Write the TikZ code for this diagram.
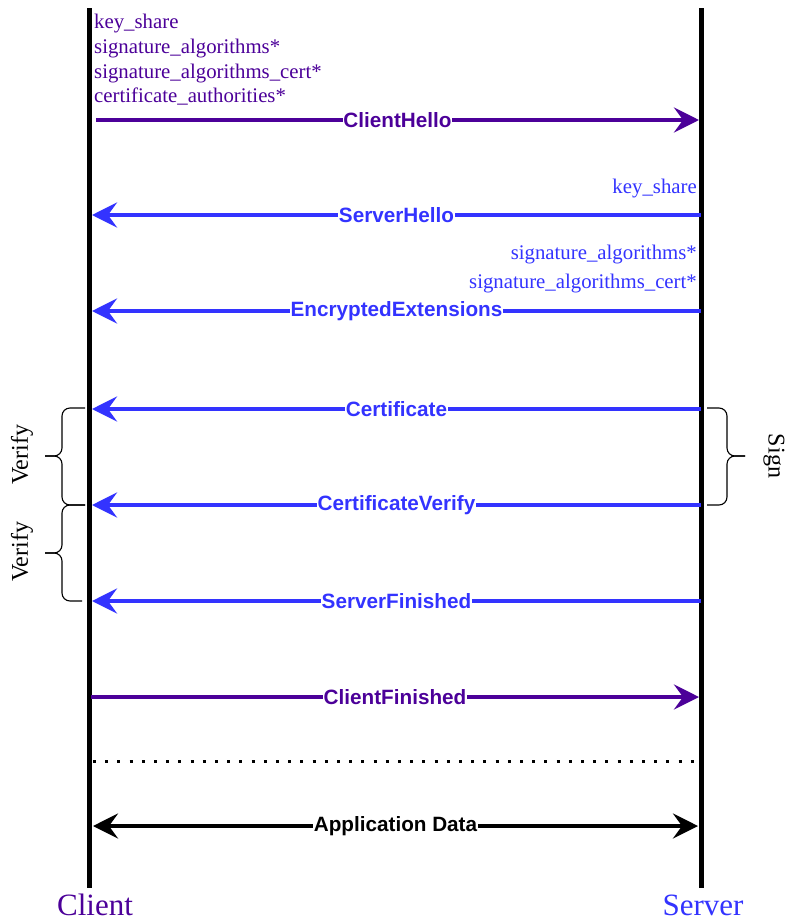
\documentclass[tikz,border=0pt]{standalone}
\usepackage{fontspec}
\setmainfont{Liberation Serif}
\setsansfont{Liberation Sans}
\usetikzlibrary{arrows.meta}
\definecolor{cpurple}{HTML}{4C0099}
\definecolor{sblue}{HTML}{3333FF}
\begin{document}
\begin{tikzpicture}[x=1pt,y=-1pt,
  lifeline/.style={line width=5pt,black},
  msgline/.style={line width=4pt},
  tipR/.style={-{Stealth[length=25pt,width=25pt,inset=9pt]}},
  tipB/.style={{Stealth[length=25pt,width=25pt,inset=9pt]}-{Stealth[length=25pt,width=25pt,inset=9pt]}},
  lbl/.style={fill=white,inner sep=0.5pt,font=\sffamily\bfseries\fontsize{20.7}{24}\selectfont},
  ext/.style={inner sep=0pt,font=\fontsize{20.8}{24}\selectfont},
  party/.style={inner sep=0pt,font=\fontsize{31}{36}\selectfont},
  bracetxt/.style={inner sep=0pt,font=\fontsize{24}{28}\selectfont},
  bracepath/.style={line width=1.1pt,rounded corners=8pt},
]
\useasboundingbox (0,0) rectangle (786,921);
\fill[white] (0,0) rectangle (786,921);

% lifelines
\coordinate (ctop) at (89,8);
\coordinate (cbot) at (89,888);
\coordinate (stop) at (701,8);
\coordinate (sbot) at (701,888);
\draw[lifeline] (ctop) -- (cbot);
\draw[lifeline] (stop) -- (sbot);

% message end points
\coordinate (c1) at (96,120);  \coordinate (s1) at (699,120);
\coordinate (s2) at (701,215); \coordinate (c2) at (92,215);
\coordinate (s3) at (701,311); \coordinate (c3) at (92,311);
\coordinate (s4) at (701,409); \coordinate (c4) at (92,409);
\coordinate (s5) at (701,505); \coordinate (c5) at (92,505);
\coordinate (s6) at (701,601); \coordinate (c6) at (92,601);
\coordinate (c7) at (91,697);  \coordinate (s7) at (699,697);
\coordinate (c8) at (93,761);  \coordinate (s8) at (700,761);
\coordinate (c9) at (93,826);  \coordinate (s9) at (698,826);

% client extensions
\node[ext,text=cpurple,anchor=base west] (ce1) at (94,28) {key\_share};
\node[ext,text=cpurple,anchor=base west] (ce2) at (94,53) {signature\_algorithms*};
\node[ext,text=cpurple,anchor=base west] (ce3) at (94,78) {signature\_algorithms\_cert*};
\node[ext,text=cpurple,anchor=base west] (ce4) at (94,102) {certificate\_authorities*};

% server extensions
\node[ext,text=sblue,anchor=base east] (se1) at (697,193) {key\_share};
\node[ext,text=sblue,anchor=base east] (se2) at (697,259) {signature\_algorithms*};
\node[ext,text=sblue,anchor=base east] (se3) at (697,288) {signature\_algorithms\_cert*};

% messages
\draw[msgline,tipR,cpurple] (c1) -- node[lbl,text=cpurple] (m1) {ClientHello} (s1);
\draw[msgline,tipR,sblue] (s2) -- node[lbl,text=sblue] (m2) {ServerHello} (c2);
\draw[msgline,tipR,sblue] (s3) -- node[lbl,text=sblue] (m3) {EncryptedExtensions} (c3);
\draw[msgline,tipR,sblue] (s4) -- node[lbl,text=sblue] (m4) {Certificate} (c4);
\draw[msgline,tipR,sblue] (s5) -- node[lbl,text=sblue] (m5) {CertificateVerify} (c5);
\draw[msgline,tipR,sblue] (s6) -- node[lbl,text=sblue] (m6) {ServerFinished} (c6);
\draw[msgline,tipR,cpurple] (c7) -- node[lbl,text=cpurple] (m7) {ClientFinished} (s7);
\draw[line width=3pt,dash pattern=on 3pt off 9.2pt] (c8) -- (s8);
\draw[msgline,tipB,black] (c9) -- node[lbl,text=black] (m9) {Application Data} (s9);

% braces
\coordinate (b1t) at (45,456);
\coordinate (b2t) at (45,553);
\coordinate (b3t) at (745,456);
\draw[bracepath] (85,408) -- (62,408) -- (62,456) -- (b1t);
\draw[bracepath] (85,505) -- (62,505) -- (62,456) -- (b1t);
\draw[bracepath] (85,505) -- (62,505) -- (62,553) -- (b2t);
\draw[bracepath] (82,601) -- (62,601) -- (62,553) -- (b2t);
\draw[bracepath] (707,408) -- (727,408) -- (727,456) -- (b3t);
\draw[bracepath] (707,505) -- (727,505) -- (727,456) -- (b3t);

\node[bracetxt,rotate=90] (v1) at (22,455) {Verify};
\node[bracetxt,rotate=90] (v2) at (22,552) {Verify};
\node[bracetxt,rotate=-90] (sg) at (774,456) {Sign};

% party labels
\node[party,text=cpurple,anchor=base] (client) at (95,915) {Client};
\node[party,text=sblue,anchor=base] (server) at (703,915) {Server};
\end{tikzpicture}
\end{document}
